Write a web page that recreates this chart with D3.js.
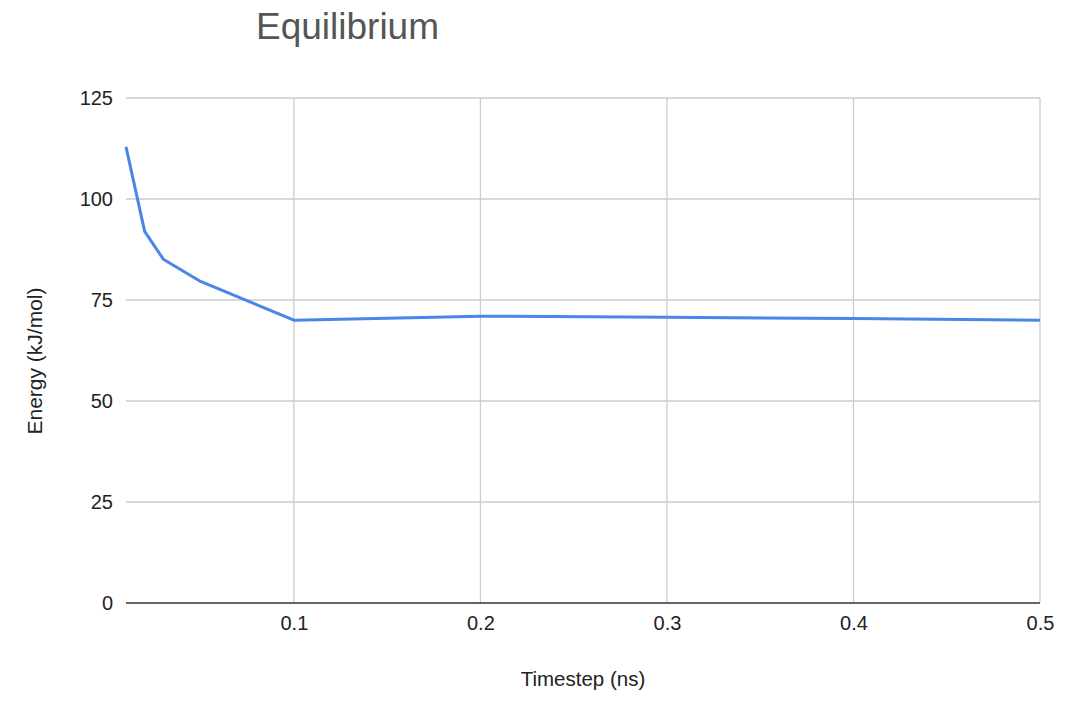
<!DOCTYPE html>
<html><head><meta charset="utf-8">
<script src="https://cdn.jsdelivr.net/npm/d3@7"></script>
<style>body{margin:0;background:#fff;font-family:"Liberation Sans",Arial,sans-serif}</style>
</head><body>
<svg id="c" width="1074" height="704"></svg>
<script>
const timesteps = [0.01, 0.02, 0.03, 0.05, 0.1, 0.2, 0.3, 0.4, 0.5];
const energy = [112.9, 92.0, 85.1, 79.6, 70.0, 71.0, 70.7, 70.4, 70.0];
const xTicks = [0.1, 0.2, 0.3, 0.4, 0.5];
const yTicks = [0, 25, 50, 75, 100, 125];
const title = "Equilibrium";
const xTitle = "Timestep (ns)";
const yTitle = "Energy (kJ/mol)";

const svg = d3.select("#c");
const L = 126, R = 1040, T = 98, B = 603;
const x = d3.scaleLinear().domain([0.01, 0.5]).range([L, R]);
const y = d3.scaleLinear().domain([0, 125]).range([B, T]);
const FF = "Liberation Sans, Arial, sans-serif";

// horizontal grid
svg.append("g").selectAll("line").data(yTicks.filter(d => d !== 0)).join("line")
  .attr("x1", L).attr("x2", R).attr("y1", d => y(d)).attr("y2", d => y(d))
  .attr("stroke", "#cccccc").attr("stroke-width", 1.3);
// vertical grid
svg.append("g").selectAll("line").data(xTicks).join("line")
  .attr("x1", d => x(d)).attr("x2", d => x(d)).attr("y1", T).attr("y2", B)
  .attr("stroke", "#cccccc").attr("stroke-width", 1.3);

// y axis labels
const yAxis = d3.axisLeft(y).tickValues(yTicks).tickSize(0).tickPadding(13);
const gy = svg.append("g").attr("transform", `translate(${L},0)`).call(yAxis);
gy.select(".domain").remove();
gy.selectAll("text").attr("font-size", 20).attr("fill", "#222").attr("font-family", FF);

// x axis
const xAxis = d3.axisBottom(x).tickValues(xTicks).tickSize(0).tickPadding(13).tickFormat(d3.format(".1f"));
const gx = svg.append("g").attr("transform", `translate(0,${B})`).call(xAxis);
gx.select(".domain").remove();
gx.selectAll("text").attr("font-size", 20).attr("fill", "#222").attr("font-family", FF);

// baseline
svg.append("line").attr("x1", L).attr("x2", R).attr("y1", y(0)).attr("y2", y(0))
  .attr("stroke", "#333").attr("stroke-width", 1.5);

// line
const pts = timesteps.map((t, i) => [t, energy[i]]);
svg.append("path").datum(pts)
  .attr("d", d3.line().x(d => x(d[0])).y(d => y(d[1])))
  .attr("fill", "none").attr("stroke", "#4a86e8").attr("stroke-width", 3)
  .attr("stroke-linejoin", "round");

// titles
svg.append("text").attr("x", 256).attr("y", 39).attr("font-size", 37)
  .attr("font-family", FF).attr("fill", "#555").text(title);
svg.append("text").attr("x", 583).attr("y", 686).attr("text-anchor", "middle")
  .attr("font-family", FF).attr("font-size", 20.5).attr("fill", "#222").text(xTitle);
svg.append("text").attr("transform", `translate(42,361) rotate(-90)`)
  .attr("font-family", FF).attr("text-anchor", "middle").attr("font-size", 21).attr("fill", "#222").text(yTitle);
</script>
</body></html>
